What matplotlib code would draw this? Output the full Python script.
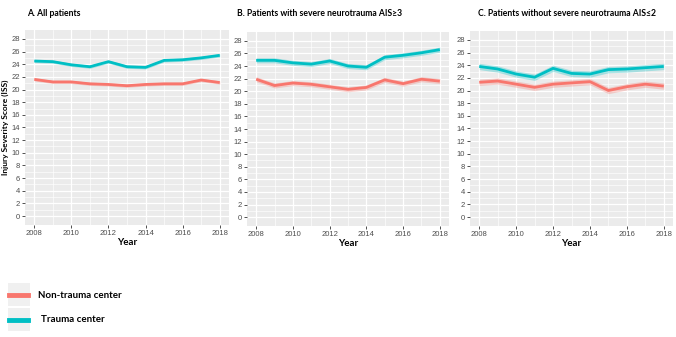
import matplotlib
matplotlib.use("Agg")
import matplotlib.pyplot as plt
import numpy as np
from matplotlib.patches import Rectangle

years = [2008, 2009, 2010, 2011, 2012, 2013, 2014, 2015, 2016, 2017, 2018]

a_trauma = [24.5, 24.4, 23.9, 23.6, 24.4, 23.6, 23.5, 24.6, 24.7, 25.0, 25.4]
a_non = [21.6, 21.2, 21.2, 20.9, 20.8, 20.6, 20.8, 20.9, 20.9, 21.5, 21.1]
b_trauma = [24.9, 24.9, 24.5, 24.3, 24.8, 24.0, 23.8, 25.4, 25.7, 26.1, 26.6]
b_non = [21.9, 20.9, 21.3, 21.1, 20.7, 20.3, 20.6, 21.8, 21.2, 21.9, 21.6]
c_trauma = [23.8, 23.4, 22.6, 22.1, 23.5, 22.7, 22.6, 23.3, 23.4, 23.6, 23.8]
c_non = [21.3, 21.5, 21.0, 20.5, 21.0, 21.2, 21.4, 20.0, 20.6, 21.0, 20.7]

# half-widths of confidence ribbons (estimated)
ci_a = 0.25
ci_b = 0.4
ci_c = 0.5

titles = ["A. All patients",
          "B. Patients with severe neurotrauma AIS\u22653",
          "C. Patients without severe neurotrauma AIS\u22642"]
ylabel = "Injury Severity Score (ISS)"
xlabel = "Year"
legend_labels = ["Non-trauma center", "Trauma center"]

RED = "#F8766D"
TEAL = "#00BFC4"
BG = "#EBEBEB"
FONT = ["Lato", "DejaVu Sans"]
TICKFONT = ["Liberation Sans", "DejaVu Sans"]

W, H = 676, 337
fig = plt.figure(figsize=(W / 100, H / 100), dpi=100)

panels = [
    (25, 30, 229, 225, a_trauma, a_non, ci_a, titles[0], 27),
    (247, 32, 449, 226, b_trauma, b_non, ci_b, titles[1], 237),
    (470, 31, 673, 226, c_trauma, c_non, ci_c, titles[2], 478),
]

for i, (x0, y0, x1, y1, tr, nt, ci, title, tx) in enumerate(panels):
    ax = fig.add_axes([x0 / W, 1 - y1 / H, (x1 - x0) / W, (y1 - y0) / H])
    ax.set_facecolor(BG)
    for s in ax.spines.values():
        s.set_visible(False)
    ax.set_xlim(2007.5, 2018.5)
    ax.set_ylim(-1.4, 29.4)
    ax.set_xticks(range(2008, 2019, 2))
    ax.set_xticks(range(2009, 2019, 2), minor=True)
    ax.set_yticks(range(0, 29, 2))
    ax.set_yticks(range(1, 29, 2), minor=True)
    ax.grid(which="major", color="white", linewidth=0.9)
    ax.grid(which="minor", color="white", linewidth=0.45)
    ax.set_axisbelow(True)
    ax.tick_params(which="major", length=2, width=0.6, color="#333333",
                   labelsize=5.5, labelcolor="#4D4D4D", pad=1.5)
    ax.tick_params(which="minor", length=0)
    for lab in ax.get_xticklabels() + ax.get_yticklabels():
        lab.set_family(TICKFONT)
    tr_a = np.array(tr)
    nt_a = np.array(nt)
    ax.fill_between(years, nt_a - ci, nt_a + ci, color=RED, alpha=0.3, linewidth=0)
    ax.fill_between(years, tr_a - ci, tr_a + ci, color=TEAL, alpha=0.3, linewidth=0)
    ax.plot(years, nt, color=RED, linewidth=2.0, solid_capstyle="butt")
    ax.plot(years, tr, color=TEAL, linewidth=2.0, solid_capstyle="butt")
    ax.set_xlabel(xlabel, fontsize=7, fontweight="bold", family=FONT, labelpad=1)
    if i == 0:
        ax.set_ylabel(ylabel, fontsize=6, fontweight="bold", family=FONT, labelpad=2)
    fig.text(tx / W, 1 - 13 / H, title, fontsize=6.2, fontweight="bold",
             family=FONT, va="center", ha="left")

# legend
for j, (col, lab) in enumerate(zip([RED, TEAL], legend_labels)):
    ky = 283 + j * 25
    fig.patches.append(Rectangle((8 / W, 1 - (ky + 23) / H), 22 / W, 23 / H,
                                 transform=fig.transFigure, facecolor="#F0F0F0",
                                 edgecolor="none"))
    fig.lines.append(plt.Line2D([9 / W, 28 / W], [1 - (ky + 12) / H] * 2,
                                transform=fig.transFigure, color=col, linewidth=3.5))
    fig.text((38 + j * 3) / W, 1 - (ky + 12) / H, lab, fontsize=7, fontweight="bold",
             family=FONT, va="center", ha="left")

fig.savefig("out.png", dpi=100)
